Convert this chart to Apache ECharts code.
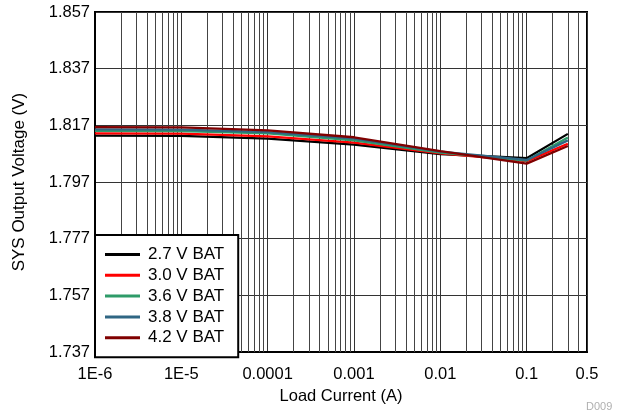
<!DOCTYPE html>
<html><head><meta charset="utf-8">
<script src="https://cdn.jsdelivr.net/npm/echarts@6/dist/echarts.min.js"></script>
<style>html,body{margin:0;padding:0;background:#fff}#c{width:621px;height:410px}</style>
</head><body><div id="c"></div>
<script>
// Load current (A)
const loadCurrent = [1e-6, 1e-5, 1e-4, 1e-3, 0.01, 0.1, 0.3];
// SYS output voltage (V) per battery voltage
const bat27 = [1.8134, 1.8133, 1.8123, 1.8102, 1.8069, 1.8054, 1.8140];
const bat30 = [1.8142, 1.8141, 1.8131, 1.8109, 1.8071, 1.8044, 1.8105];
const bat36 = [1.8151, 1.8150, 1.8142, 1.8117, 1.8074, 1.8046, 1.8127];
const bat38 = [1.8156, 1.8155, 1.8146, 1.8123, 1.8077, 1.8048, 1.8117];
const bat42 = [1.8164, 1.8163, 1.8152, 1.8128, 1.8079, 1.8035, 1.8097];

const seriesNames = ['2.7 V BAT', '3.0 V BAT', '3.6 V BAT', '3.8 V BAT', '4.2 V BAT'];
const seriesColors = ['#000000', '#ff0000', '#2e9b69', '#2f6683', '#800000'];
const seriesValues = [bat27, bat30, bat36, bat38, bat42];

const xTickValues = [1e-6, 1e-5, 1e-4, 1e-3, 0.01, 0.1, 0.5];
const xTickLabels = ['1E-6', '1E-5', '0.0001', '0.001', '0.01', '0.1', '0.5'];
const xMin = 1e-6, xMax = 0.5;
const yMin = 1.737, yMax = 1.857, yStep = 0.02;
const decades = [1e-6, 1e-5, 1e-4, 1e-3, 0.01, 0.1];
const minorMultipliers = [2, 3, 4, 5, 6, 7, 8, 9];

const minorGrid = [];
decades.forEach(d => minorMultipliers.forEach(k => {
  const v = k * d;
  if (v < xMax) minorGrid.push({ xAxis: v });
}));

const FONT = 'Liberation Sans, Arial, Helvetica, sans-serif';
const chart = echarts.init(document.getElementById('c'), null, { renderer: 'canvas' });

const series = seriesNames.map((name, i) => ({
  name: name,
  type: 'line',
  data: loadCurrent.map((x, j) => [x, seriesValues[i][j]]),
  showSymbol: false,
  symbol: 'none',
  lineStyle: { color: seriesColors[i], width: 2.3 },
  itemStyle: { color: seriesColors[i] },
  z: 5 + i,
  animation: false
}));
series.unshift({
  name: 'minor-grid',
  type: 'line',
  data: [],
  z: 1,
  silent: true,
  markLine: {
    silent: true,
    precision: 12,
    symbol: ['none', 'none'],
    label: { show: false },
    animation: false,
    lineStyle: { color: '#444', width: 1, type: 'solid' },
    emphasis: { disabled: true },
    data: minorGrid
  }
});

chart.setOption({
  animation: false,
  backgroundColor: '#fff',
  grid: { left: 95, right: 34, top: 12, bottom: 52, show: true, borderColor: '#000', borderWidth: 2, backgroundColor: 'transparent' },
  xAxis: {
    type: 'log', logBase: 10, min: xMin, max: xMax,
    name: 'Load Current (A)', nameLocation: 'middle', nameGap: 31,
    nameTextStyle: { fontFamily: FONT, fontSize: 16.5, color: '#000' },
    axisLine: { show: true, lineStyle: { color: '#000', width: 2 } },
    axisTick: { show: false },
    splitLine: { show: true, lineStyle: { color: '#333', width: 1 } },
    minorTick: { show: false }, minorSplitLine: { show: false },
    axisLabel: {
      fontFamily: FONT, fontSize: 16.5, color: '#000', margin: 14,
      showMinLabel: true, showMaxLabel: true,
      formatter: function (v) {
        for (let i = 0; i < xTickValues.length; i++) {
          if (Math.abs(Math.log10(v) - Math.log10(xTickValues[i])) < 0.02) return xTickLabels[i];
        }
        return '';
      }
    }
  },
  yAxis: {
    type: 'value', min: yMin, max: yMax, interval: yStep,
    name: 'SYS Output Voltage (V)', nameLocation: 'middle', nameGap: 67, nameRotate: 90,
    nameTextStyle: { fontFamily: FONT, fontSize: 17, color: '#000' },
    axisLine: { show: true, lineStyle: { color: '#000', width: 2 } },
    axisTick: { show: false },
    splitLine: { show: true, lineStyle: { color: '#333', width: 1 } },
    axisLabel: { fontFamily: FONT, fontSize: 16.5, color: '#000', margin: 5, formatter: v => v.toFixed(3) }
  },
  legend: {
    data: seriesNames,
    orient: 'vertical', left: 95, top: 235,
    backgroundColor: '#fff', borderColor: '#000', borderWidth: 2, borderRadius: 0,
    padding: [11, 14, 11, 10],
    itemWidth: 35, itemHeight: 3, itemGap: 3.8,
    icon: 'rect',
    textStyle: { fontFamily: FONT, fontSize: 17, color: '#000', lineHeight: 17, padding: [0, 0, 0, 3] },
    selectedMode: false,
    z: 20
  },
  graphic: [{
    type: 'text', left: 586, top: 401,
    style: { text: 'D009', fill: '#b0b0b0', font: '11px ' + FONT }
  }],
  series: series
});
</script>
</body></html>
